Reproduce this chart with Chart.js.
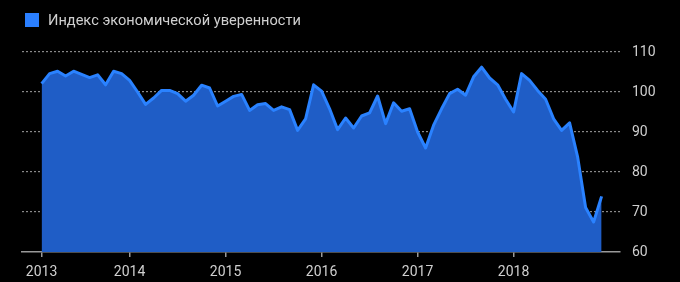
<!DOCTYPE html>
<html>
<head>
<meta charset="utf-8">
<script src="https://cdn.jsdelivr.net/npm/chart.js@4/dist/chart.umd.min.js"></script>
<style>
  html, body { margin: 0; padding: 0; background: #000; }
  #wrap { position: relative; width: 680px; height: 282px; }
  canvas { display: block; }
  #legend { position: absolute; left: 25px; top: 11px; font: 14.6px Roboto, sans-serif; color: #cfcfcf; display: flex; align-items: center; }
  #legend span.box { width: 14px; height: 14px; background: #2a7fff; margin-right: 9px; }
</style>
</head>
<body>
<div id="wrap">
  <canvas id="chart" width="680" height="282"></canvas>
  <div id="legend"><span class="box"></span><span>Индекс экономической уверенности</span></div>
</div>
<script>
// Помесячно: февраль 2013 - декабрь 2018
const confidence = [
  102.1, 104.6, 105.2, 104.0, 105.2, 104.4, 103.6, 104.3, 101.8, 105.2, 104.6,
  102.9, 100.0, 96.9, 98.5, 100.4, 100.4, 99.6, 97.7, 99.2, 101.7, 101.0, 96.5,
  97.7, 98.9, 99.4, 95.4, 96.8, 97.1, 95.4, 96.3, 95.6, 90.4, 93.3, 101.8,
  100.2, 95.8, 90.6, 93.5, 91.0, 94.0, 94.8, 99.0, 92.1, 97.3, 95.2, 95.8,
  90.0, 86.0, 91.7, 95.8, 99.6, 100.7, 99.2, 103.8, 106.2, 103.5, 101.8, 98.2,
  95.0, 104.6, 102.9, 100.4, 98.2, 93.3, 90.4, 92.3, 83.8, 71.1, 67.5, 73.9
];
const yearTickPos = [0, 11, 23, 35, 47, 59];
const yearLabels = ['2013', '2014', '2015', '2016', '2017', '2018'];
const yTicks = [60, 70, 80, 90, 100, 110];

const points = confidence.map((v, i) => ({ x: i, y: v }));
const textColor = '#cfcfcf';
const tickFont = { family: 'Roboto, sans-serif', size: 14 };

new Chart(document.getElementById('chart').getContext('2d'), {
    type: 'line',
    data: { datasets: [{
        label: 'Индекс экономической уверенности',
        data: points,
        borderColor: '#2a82ff',
        backgroundColor: '#1f5dc6',
        borderWidth: 3,
        borderJoinStyle: 'round',
        pointRadius: 0,
        tension: 0,
        fill: 'start'
    }]},
    options: {
        responsive: false,
        animation: false,
        layout: { padding: { left: 22, top: 52, right: 0, bottom: 0 } },
        plugins: { legend: { display: false }, tooltip: { enabled: false } },
        scales: {
            x: {
                type: 'linear',
                min: -2.45,
                max: 72.3,
                afterBuildTicks: (s) => { s.ticks = yearTickPos.map(v => ({ value: v })); },
                afterFit: (s) => { s.height = 30; },
                ticks: {
                    color: textColor, font: tickFont, padding: 7, maxRotation: 0,
                    callback: (v) => yearLabels[yearTickPos.indexOf(v)]
                },
                grid: { drawOnChartArea: false, drawTicks: true, tickLength: 5, color: '#999', lineWidth: 1.5 },
                border: { display: true, color: '#999', width: 1.5 }
            },
            y: {
                position: 'right',
                min: 60,
                max: 110,
                afterBuildTicks: (s) => { s.ticks = yTicks.map(v => ({ value: v })); },
                afterFit: (s) => { s.width = 60; },
                ticks: { color: textColor, font: tickFont, padding: 12 },
                grid: {
                    drawTicks: false,
                    color: (c) => c.tick && c.tick.value === 60 ? 'rgba(0,0,0,0)' : 'rgba(160,160,160,0.85)',
                    lineWidth: 1.2
                },
                border: { display: false, dash: [2, 2] }
            }
        }
    }
});
</script>
</body>
</html>
